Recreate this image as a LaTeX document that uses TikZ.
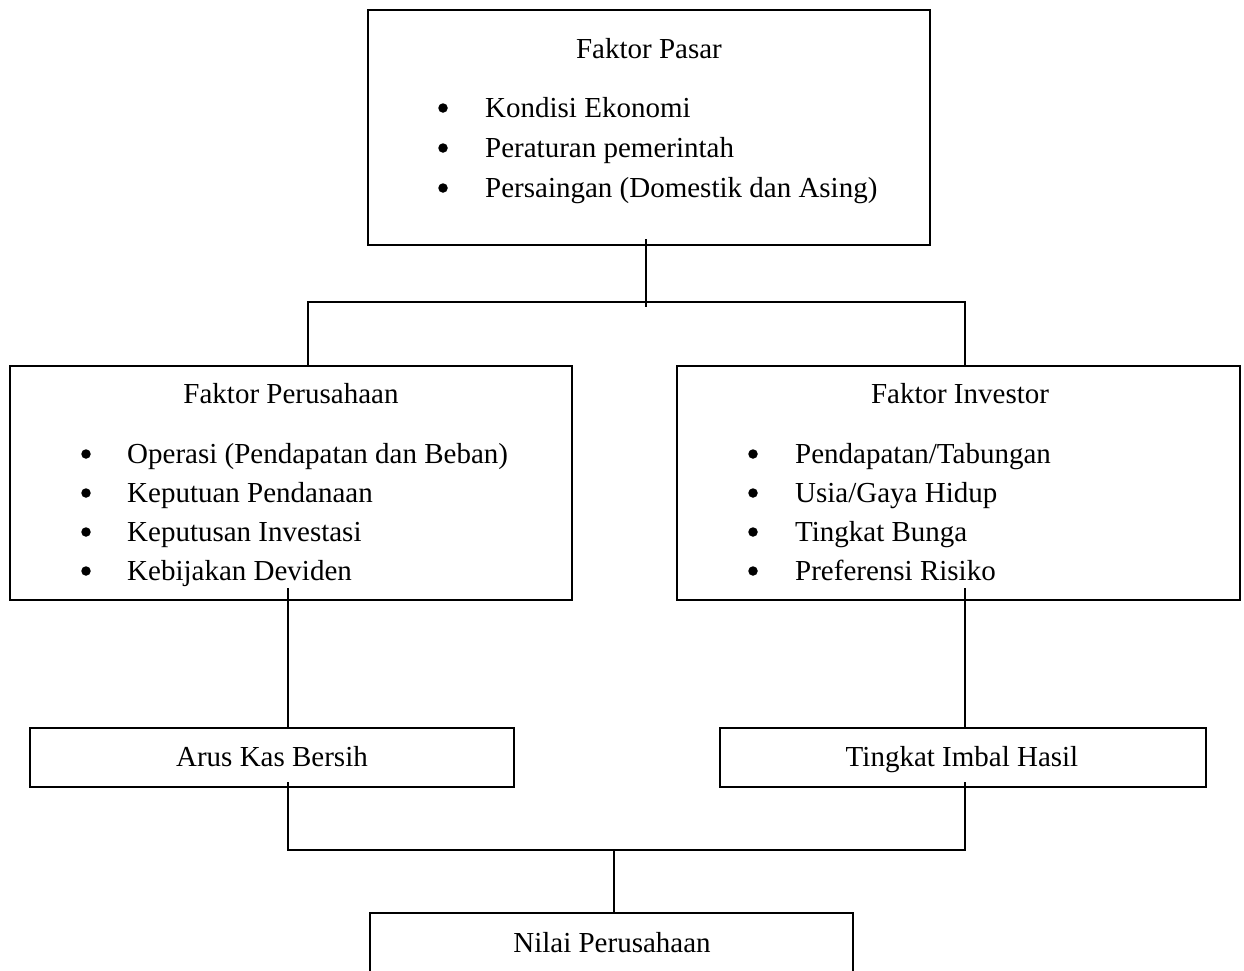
\documentclass[tikz,border=0pt]{standalone}
\usepackage{fontspec}
\setmainfont{Liberation Serif}
\begin{document}
\begin{tikzpicture}[x=1pt,y=-1pt,
  box/.style={draw, line width=1.3pt, inner sep=0pt, outer sep=0pt, anchor=north west},
  conn/.style={line width=1.2pt},
  ttl/.style={font=\fontsize{29}{29}\selectfont, inner sep=0pt, anchor=base},
  itm/.style={font=\fontsize{29}{29}\selectfont, inner sep=0pt, anchor=base west},
  bul/.style={circle, fill=black, inner sep=0pt, minimum size=9.5pt}]
\useasboundingbox (0,0) rectangle (1244,970);
\clip (0,0) rectangle (1244,970);

% boxes
\node[box, minimum width=562pt, minimum height=235pt] (pasar) at (368,10) {};
\node[box, minimum width=562pt, minimum height=234pt] (perus) at (10,366) {};
\node[box, minimum width=563pt, minimum height=234pt] (invest) at (677,366) {};
\node[box, minimum width=484pt, minimum height=59pt] (arus) at (30,728) {};
\node[box, minimum width=486pt, minimum height=59pt] (imbal) at (720,728) {};
\node[box, minimum width=483pt, minimum height=90pt] (nilai) at (370,913) {};

% texts: Faktor Pasar
\node[ttl] (tpasar) at (649,58) {Faktor Pasar};
\node[bul] (bp1) at (443,108) {};
\node[itm] (ip1) at (485,117) {Kondisi Ekonomi};
\node[bul] (bp2) at (443,148) {};
\node[itm] (ip2) at (485,157) {Peraturan pemerintah};
\node[bul] (bp3) at (443,188) {};
\node[itm] (ip3) at (485,197) {Persaingan (Domestik dan Asing)};

% Faktor Perusahaan
\node[ttl] (tperus) at (291,403) {Faktor Perusahaan};
\node[bul] (bf1) at (86,454) {};
\node[itm] (if1) at (127,463) {Operasi (Pendapatan dan Beban)};
\node[bul] (bf2) at (86,493) {};
\node[itm] (if2) at (127,502) {Keputuan Pendanaan};
\node[bul] (bf3) at (86,532) {};
\node[itm] (if3) at (127,541) {Keputusan Investasi};
\node[bul] (bf4) at (86,571) {};
\node[itm] (if4) at (127,580) {Kebijakan Deviden};

% Faktor Investor
\node[ttl] (tinv) at (960,403) {Faktor Investor};
\node[bul] (bi1) at (753,454) {};
\node[itm] (ii1) at (795,463) {Pendapatan/Tabungan};
\node[bul] (bi2) at (753,493) {};
\node[itm] (ii2) at (795,502) {Usia/Gaya Hidup};
\node[bul] (bi3) at (753,532) {};
\node[itm] (ii3) at (795,541) {Tingkat Bunga};
\node[bul] (bi4) at (753,571) {};
\node[itm] (ii4) at (795,580) {Preferensi Risiko};

% small boxes
\node[ttl] (tarus) at (272,766) {Arus Kas Bersih};
\node[ttl] (timbal) at (962,766) {Tingkat Imbal Hasil};
\node[ttl] (tnilai) at (612,952) {Nilai Perusahaan};

% connector points
\coordinate (a1) at (646,239);
\coordinate (a2) at (646,307);
\coordinate (jl) at (308,302);
\coordinate (jr) at (965,302);
\coordinate (pl) at (308,366);
\coordinate (pr) at (965,366);
\coordinate (l1) at (288,588);
\coordinate (l2) at (288,728);
\coordinate (r1) at (965,588);
\coordinate (r2) at (965,728);
\coordinate (l3) at (288,782);
\coordinate (r3) at (965,782);
\coordinate (bl) at (288,850);
\coordinate (br) at (965,850);
\coordinate (bm) at (614,850);
\coordinate (nt) at (614,913);

\draw[conn] (a1) -- (a2);
\draw[conn] (pl) -- (jl) -- (jr) -- (pr);
\draw[conn] (l1) -- (l2);
\draw[conn] (r1) -- (r2);
\draw[conn] (l3) -- (bl) -- (br) -- (r3);
\draw[conn] (bm) -- (nt);
\end{tikzpicture}
\end{document}
